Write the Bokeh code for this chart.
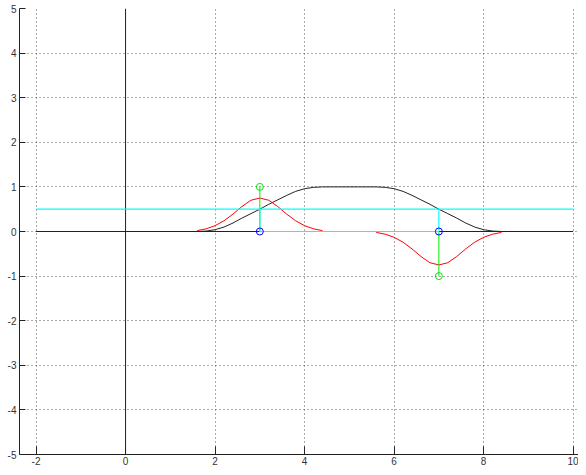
from bokeh.plotting import figure
from bokeh.models import Range1d, FixedTicker
from bokeh.embed import file_html
from bokeh.resources import INLINE

# Data
x_ticks = [-2, 0, 2, 4, 6, 8, 10]
x_tick_labels = ["-2", "0", "2", "4", "6", "8", "10"]
y_ticks = [-5, -4, -3, -2, -1, 0, 1, 2, 3, 4, 5]
y_tick_labels = ["-5", "-4", "-3", "-2", "-1", "0", "1", "2", "3", "4", "5"]

black_x = [1.6, 1.8, 2.0, 2.2, 2.4, 2.6, 2.8, 3.0, 3.2, 3.4, 3.6, 3.8, 4.0, 4.2, 4.4,
           4.6, 4.8, 5.0, 5.2, 5.4,
           5.6, 5.8, 6.0, 6.2, 6.4, 6.6, 6.8, 7.0, 7.2, 7.4, 7.6, 7.8, 8.0, 8.2, 8.4]
black_y = [0.0, 0.01, 0.04, 0.10, 0.19, 0.30, 0.40, 0.50, 0.61, 0.71, 0.81, 0.90, 0.96, 0.99, 1.0,
           1.0, 1.0, 1.0, 1.0, 1.0,
           1.0, 0.99, 0.96, 0.90, 0.81, 0.71, 0.61, 0.50, 0.40, 0.30, 0.19, 0.10, 0.04, 0.01, 0.0]

red1_x = [1.6, 1.8, 2.0, 2.2, 2.4, 2.6, 2.8, 3.0, 3.2, 3.4, 3.6, 3.8, 4.0, 4.2, 4.4]
red1_y = [0.02, 0.06, 0.13, 0.24, 0.39, 0.56, 0.70, 0.75, 0.70, 0.56, 0.39, 0.24, 0.13, 0.06, 0.02]
red2_x = [5.6, 5.8, 6.0, 6.2, 6.4, 6.6, 6.8, 7.0, 7.2, 7.4, 7.6, 7.8, 8.0, 8.2, 8.4]
red2_y = [-0.02, -0.06, -0.13, -0.24, -0.39, -0.56, -0.70, -0.75, -0.70, -0.56, -0.39, -0.24, -0.13, -0.06, -0.02]

level_x = [-2, 10]
level_y = [0.5, 0.5]
cyan_path_x = [3, 3, 7, 7]
cyan_path_y = [0.5, 0, 0, 0.5]

green1_x = [3, 3]
green1_y = [0, 1]
green2_x = [7, 7]
green2_y = [0, -1]
green_pts_x = [3, 7]
green_pts_y = [1, -1]
blue_pts_x = [3, 7]
blue_pts_y = [0, 0]

axis_h_x = [-2, 10]
axis_h_y = [0, 0]
axis_v_x = [0, 0]
axis_v_y = [-5, 5]

p = figure(width=578, height=467, output_backend="svg", toolbar_location=None,
           x_range=Range1d(-2.37, 10.12), y_range=Range1d(-5, 5),
           min_border_left=19, min_border_right=0, min_border_top=8, min_border_bottom=0)
p.outline_line_color = None
p.background_fill_color = "white"
p.border_fill_color = "white"

for ax in (p.xaxis[0], p.yaxis[0]):
    ax.axis_line_color = "#222222"
    ax.axis_line_width = 1
    ax.major_tick_line_color = "#222222"
    ax.major_tick_out = 0
    ax.minor_tick_line_color = None
    ax.major_label_text_font = "Liberation Sans"
    ax.major_label_text_font_size = "10px"
    ax.major_label_text_color = "#333333"
p.xaxis[0].ticker = FixedTicker(ticks=x_ticks)
p.yaxis[0].ticker = FixedTicker(ticks=y_ticks)
p.xaxis[0].major_label_overrides = dict(zip(x_ticks, x_tick_labels))
p.yaxis[0].major_label_overrides = dict(zip(y_ticks, y_tick_labels))
p.xaxis[0].major_tick_in = 8
p.yaxis[0].major_tick_in = 6
p.xaxis[0].major_label_standoff = 2
p.yaxis[0].major_label_standoff = 3

for g in (p.xgrid[0], p.ygrid[0]):
    g.grid_line_color = "#555555"
    g.grid_line_dash = "1 3"
    g.grid_line_width = 1
p.xgrid[0].ticker = FixedTicker(ticks=x_ticks)
p.ygrid[0].ticker = FixedTicker(ticks=y_ticks)

p.line(axis_h_x, axis_h_y, line_color="#222222", line_width=1)
p.line(axis_v_x, axis_v_y, line_color="#222222", line_width=1)
p.line(black_x, black_y, line_color="#222222", line_width=1)
p.line(red1_x, red1_y, line_color="red", line_width=1)
p.line(red2_x, red2_y, line_color="red", line_width=1)
p.line(green1_x, green1_y, line_color="#00ee00", line_width=1)
p.line(green2_x, green2_y, line_color="#00ee00", line_width=1)
p.line(level_x, level_y, line_color="cyan", line_width=1.2)
p.line(cyan_path_x, cyan_path_y, line_color="cyan", line_width=1.2)
p.scatter(green_pts_x, green_pts_y, marker="circle", size=7, fill_color=None,
          line_color="#00ee00", line_width=1)
p.scatter(blue_pts_x, blue_pts_y, marker="circle", size=7, fill_color=None,
          line_color="blue", line_width=1)

open("out.html", "w").write(file_html(p, INLINE))
